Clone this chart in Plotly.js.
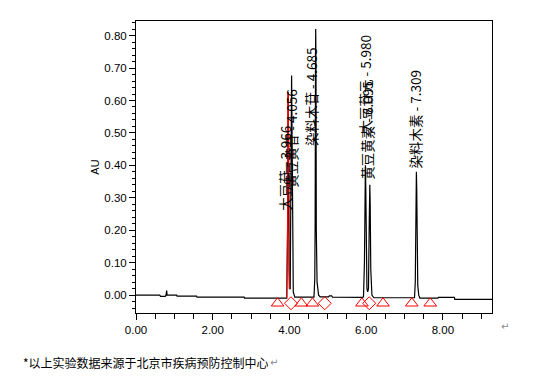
<!DOCTYPE html>
<html>
<head>
<meta charset="utf-8">
<script src="https://cdn.plot.ly/plotly-3.0.1.min.js"></script>
<style>html,body{margin:0;padding:0;background:#fff;}#chart{width:545px;height:376px;}</style>
</head>
<body>
<div id="chart"></div>
<script>
// Chromatogram trace (time in min, absorbance in AU)
const timeMin = [0.00,0.62,0.64,0.76,0.78,0.79,0.80,0.81,1.06,1.07,1.58,1.59,2.82,2.83,3.90,
  3.93,3.95,3.96,3.966,3.975,3.99,4.00,
  4.02,4.04,4.05,4.056,4.065,4.08,4.10,4.14,4.60,
  4.64,4.66,4.67,4.68,4.685,4.692,4.70,4.72,4.76,4.80,
  5.02,5.04,5.10,5.12,5.90,
  5.93,5.955,5.97,5.98,5.99,6.005,6.02,6.04,
  6.06,6.08,6.09,6.095,6.105,6.12,6.15,6.20,7.20,
  7.26,7.28,7.29,7.30,7.309,7.318,7.33,7.345,7.37,7.40,
  7.87,7.88,8.30,8.31,9.28];
const absAU = [0.000,0.000,-0.004,-0.004,-0.001,0.014,0.014,0.000,0.000,-0.003,-0.003,-0.006,-0.006,-0.009,-0.009,
  -0.009,0.200,0.600,0.625,0.500,0.080,0.020,
  0.020,0.300,0.660,0.677,0.550,0.120,0.010,-0.006,-0.008,
  -0.006,0.050,0.220,0.750,0.820,0.700,0.200,0.040,0.000,-0.005,
  -0.005,-0.002,-0.002,-0.006,-0.007,
  -0.005,0.100,0.360,0.400,0.330,0.060,0.020,0.010,
  0.020,0.220,0.330,0.340,0.280,0.080,0.000,-0.008,-0.009,
  -0.008,0.040,0.200,0.360,0.380,0.330,0.150,0.030,0.000,-0.009,
  -0.009,-0.007,-0.007,-0.013,-0.013];
// First peak drawn in red
const redTime = [3.93,3.95,3.96,3.966,3.975,3.99,4.00];
const redAU = [-0.009,0.200,0.600,0.625,0.500,0.080,0.020];
// Integration start/end markers
const triTime = [3.69,4.31,4.60,5.89,6.44,7.19,7.67];
const diaTime = [4.04,4.92,6.08];
const markerAU = -0.025;
// Peak labels
const peakNames = ['大豆苷','黄豆黄苷','染料木苷','大豆苷元','黄豆黄素','染料木素'];
const peakTimes = [3.966,4.056,4.685,5.980,6.095,7.309];
const xTickVals = [0,2,4,6,8];
const yTickVals = [0,0.1,0.2,0.3,0.4,0.5,0.6,0.7,0.8];
const footnote = '*以上实验数据来源于北京市疾病预防控制中心';

const traces = [
  {x: timeMin, y: absAU, mode: 'lines', line: {color: '#000', width: 1.2}, hoverinfo: 'skip'},
  {x: redTime, y: redAU, mode: 'lines', line: {color: '#ff0000', width: 1}, hoverinfo: 'skip'},
  {x: triTime, y: triTime.map(() => markerAU), mode: 'markers',
   marker: {symbol: 'triangle-up-open', size: 11, color: '#ff0000', line: {width: 1}}},
  {x: diaTime, y: diaTime.map(() => markerAU), mode: 'markers',
   marker: {symbol: 'diamond-open', size: 10, color: '#ff0000', line: {width: 1}}}
];

// label placement (style): [x, y, yanchor]
const labelPos = [
  [3.88, 0.255, 'bottom'],
  [4.02, 0.640, 'top'],
  [4.545, 0.769, 'top'],
  [5.965, 0.806, 'top'],
  [6.035, 0.348, 'bottom'],
  [7.28, 0.385, 'bottom']
];
const lblFont = {family: 'Noto Sans CJK SC', size: 13.5, color: '#000'};
const annotations = peakNames.map((n, i) => ({
  text: n + ' - ' + peakTimes[i].toFixed(3),
  x: labelPos[i][0], y: labelPos[i][1], xref: 'x', yref: 'y',
  xanchor: 'center', yanchor: labelPos[i][2], textangle: -90,
  showarrow: false, font: lblFont
}));
annotations.push({text: footnote, xref: 'paper', yref: 'paper', x: -0.324, y: -0.168,
  xanchor: 'left', yanchor: 'middle', showarrow: false,
  font: {family: 'Noto Sans CJK SC', size: 12, color: '#000'}});
annotations.push({text: '↵', xref: 'paper', yref: 'paper', x: 0.372, y: -0.168,
  xanchor: 'left', yanchor: 'middle', showarrow: false,
  font: {family: 'DejaVu Sans', size: 10, color: '#888'}});
annotations.push({text: '↵', xref: 'paper', yref: 'paper', x: 1.02, y: -0.047,
  xanchor: 'left', yanchor: 'middle', showarrow: false,
  font: {family: 'DejaVu Sans', size: 10, color: '#888'}});

const tickFont = {family: 'Liberation Sans, Arial, sans-serif', size: 11.5, color: '#000'};
const layout = {
  width: 545, height: 376,
  margin: {l: 135.5, r: 52.7, t: 20.7, b: 63},
  paper_bgcolor: '#fff', plot_bgcolor: '#fff',
  showlegend: false,
  xaxis: {range: [0, 9.28], tickvals: xTickVals, ticktext: xTickVals.map(v => v.toFixed(2)),
    ticks: 'outside', ticklen: 6, tickcolor: '#000', tickfont: tickFont,
    showgrid: false, zeroline: false, showline: true, linecolor: '#000', linewidth: 1, mirror: true,
    minor: {dtick: 0.5, tick0: 0, ticks: 'outside', ticklen: 5, tickcolor: '#000', showgrid: false}},
  yaxis: {range: [-0.055, 0.845], tickvals: yTickVals, ticktext: yTickVals.map(v => v.toFixed(2)),
    ticks: 'outside', ticklen: 6, tickcolor: '#000', tickfont: tickFont,
    showgrid: false, zeroline: false, showline: true, linecolor: '#000', linewidth: 1, mirror: true,
    title: {text: 'AU', font: {family: 'Liberation Sans, Arial, sans-serif', size: 11, color: '#000'}, standoff: 2},
    minor: {dtick: 0.02, tick0: 0, ticks: 'outside', ticklen: 3, tickcolor: '#000', showgrid: false}},
  annotations: annotations
};
Plotly.newPlot('chart', traces, layout, {staticPlot: true});
</script>
</body>
</html>
